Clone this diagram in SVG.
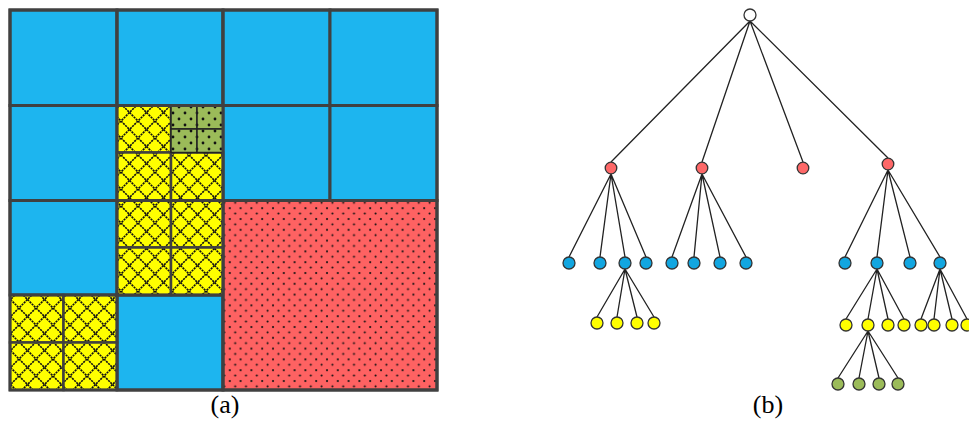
<svg xmlns="http://www.w3.org/2000/svg" width="969" height="425" viewBox="0 0 969 425">
<defs>
<pattern id="hatch" width="17" height="17" patternUnits="userSpaceOnUse" x="2" y="2">
<rect width="17" height="17" fill="#ffff00"/>
<path d="M0,0 L17,17 M17,0 L0,17" stroke="#111" stroke-width="1.6" stroke-dasharray="2.2 0.8"/>
</pattern>
<pattern id="dotsG" width="12" height="12" patternUnits="userSpaceOnUse" x="3" y="3">
<rect width="12" height="12" fill="#9bbb59"/>
<circle cx="2" cy="2" r="1.4" fill="#111"/>
<circle cx="8" cy="8" r="1.4" fill="#111"/>
</pattern>
<pattern id="dotsR" width="10.8" height="10.8" patternUnits="userSpaceOnUse" x="0" y="0">
<rect width="10.8" height="10.8" fill="#fe6262"/>
<circle cx="3" cy="3" r="1.05" fill="#111"/>
<circle cx="8.4" cy="8.4" r="1.05" fill="#111"/>
</pattern>
</defs>
<style>
.b{fill:#1db5ef;stroke:#404040;stroke-width:3}
.y{fill:url(#hatch);stroke:#404040;stroke-width:2.5}
.g{fill:url(#dotsG);stroke:#222;stroke-width:1.5}
.r{fill:url(#dotsR);stroke:#404040;stroke-width:3}
.e{stroke:#222;stroke-width:1.3;fill:none}
.n{stroke:#333;stroke-width:1.3}
.lbl{font-family:"Liberation Serif",serif;font-size:26px;fill:#000;text-anchor:middle}
</style>
<rect width="969" height="425" fill="#fff"/>
<g id="grid">
<rect class="b" x="10" y="10" width="107" height="95.5"/>
<rect class="b" x="117" y="10" width="106" height="95.5"/>
<rect class="b" x="223" y="10" width="107" height="95.5"/>
<rect class="b" x="330" y="10" width="107" height="95.5"/>
<rect class="b" x="10" y="105.5" width="107" height="95"/>
<rect class="b" x="223" y="105.5" width="107" height="95"/>
<rect class="b" x="330" y="105.5" width="107" height="95"/>
<rect class="b" x="10" y="200.5" width="107" height="94.5"/>
<rect class="b" x="117" y="295" width="106" height="95"/>
<rect class="r" x="223" y="200.5" width="214" height="189.5"/>
<rect class="y" x="117" y="105.5" width="54" height="47"/>
<rect class="y" x="117" y="152.5" width="54" height="48"/>
<rect class="y" x="171" y="152.5" width="52" height="48"/>
<rect class="g" x="171" y="105.5" width="26" height="23.5"/>
<rect class="g" x="197" y="105.5" width="26" height="23.5"/>
<rect class="g" x="171" y="129" width="26" height="23.5"/>
<rect class="g" x="197" y="129" width="26" height="23.5"/>
<rect class="y" x="117" y="200.5" width="54" height="47"/>
<rect class="y" x="171" y="200.5" width="52" height="47"/>
<rect class="y" x="117" y="247.5" width="54" height="47.5"/>
<rect class="y" x="171" y="247.5" width="52" height="47.5"/>
<rect class="y" x="10" y="295" width="53.5" height="47.5"/>
<rect class="y" x="63.5" y="295" width="53.5" height="47.5"/>
<rect class="y" x="10" y="342.5" width="53.5" height="47.5"/>
<rect class="y" x="63.5" y="342.5" width="53.5" height="47.5"/>
<rect x="10" y="10" width="427" height="380" fill="none" stroke="#404040" stroke-width="3"/>
<path d="M117,10V390 M223,10V390 M10,105.5H437 M10,200.5H223 M10,295H223" stroke="#404040" stroke-width="3" fill="none"/>
</g>
<g id="connectors">
<path class="e" d="M750,21L611,162 M750,21L702,162 M750,21L803,162 M750,21L888,158"/>
<path class="e" d="M611,174L569,257 M611,174L600,257 M611,174L625,257 M611,174L646,257"/>
<path class="e" d="M702,174L672,257 M702,174L694,257 M702,174L720,257 M702,174L746,257"/>
<path class="e" d="M888,170L845,257 M888,170L877,257 M888,170L910,257 M888,170L940,257"/>
<path class="e" d="M625,269L597,317 M625,269L617,317 M625,269L637,317 M625,269L654,317"/>
<path class="e" d="M877,269L846,319 M877,269L868,319 M877,269L888,319 M877,269L904,319"/>
<path class="e" d="M940,269L921,319 M940,269L934,319 M940,269L952,319 M940,269L967,319"/>
<path class="e" d="M868,331L838,378 M868,331L859,378 M868,331L879,378 M868,331L898,378"/>
</g>
<g id="root"><circle class="n" cx="750" cy="15" r="6" fill="#fff"/></g>
<g id="red" fill="#fe6868">
<circle class="n" cx="611" cy="168" r="5.8"/>
<circle class="n" cx="702" cy="168" r="5.8"/>
<circle class="n" cx="803" cy="168" r="5.8"/>
<circle class="n" cx="888" cy="164" r="5.8"/>
</g>
<g id="blue" fill="#12a6e0">
<circle class="n" cx="569" cy="263" r="6"/>
<circle class="n" cx="600" cy="263" r="6"/>
<circle class="n" cx="625" cy="263" r="6"/>
<circle class="n" cx="646" cy="263" r="6"/>
<circle class="n" cx="672" cy="263" r="6"/>
<circle class="n" cx="694" cy="263" r="6"/>
<circle class="n" cx="720" cy="263" r="6"/>
<circle class="n" cx="746" cy="263" r="6"/>
<circle class="n" cx="845" cy="263" r="6"/>
<circle class="n" cx="877" cy="263" r="6"/>
<circle class="n" cx="910" cy="263" r="6"/>
<circle class="n" cx="940" cy="263" r="6"/>
</g>
<g id="yellow" fill="#ffff00">
<circle class="n" cx="597" cy="323" r="6"/>
<circle class="n" cx="617" cy="323" r="6"/>
<circle class="n" cx="637" cy="323" r="6"/>
<circle class="n" cx="654" cy="323" r="6"/>
<circle class="n" cx="846" cy="325" r="6"/>
<circle class="n" cx="868" cy="325" r="6"/>
<circle class="n" cx="888" cy="325" r="6"/>
<circle class="n" cx="904" cy="325" r="6"/>
<circle class="n" cx="921" cy="325" r="6"/>
<circle class="n" cx="934" cy="325" r="6"/>
<circle class="n" cx="952" cy="325" r="6"/>
<circle class="n" cx="967" cy="325" r="6"/>
</g>
<g id="green" fill="#9bbb59">
<circle class="n" cx="838" cy="384" r="6"/>
<circle class="n" cx="859" cy="384" r="6"/>
<circle class="n" cx="879" cy="384" r="6"/>
<circle class="n" cx="898" cy="384" r="6"/>
</g>
<text class="lbl" x="225" y="413">(a)</text>
<text class="lbl" x="768" y="413">(b)</text>
</svg>
